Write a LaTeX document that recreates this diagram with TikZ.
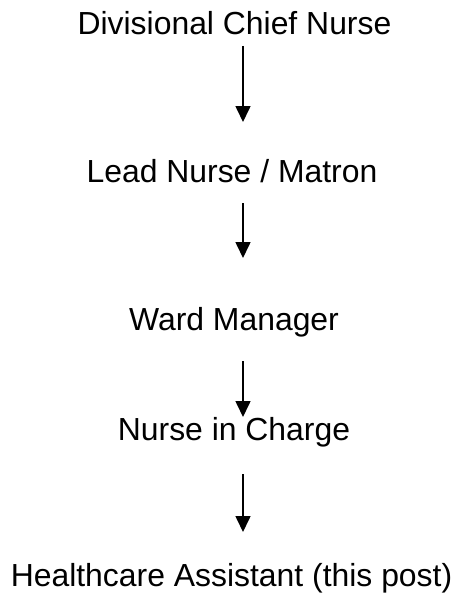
\documentclass[tikz,border=0pt]{standalone}
\usepackage{fontspec}
\setmainfont{Liberation Sans}
\usetikzlibrary{arrows.meta}
\begin{document}
\begin{tikzpicture}[x=1pt,y=1pt,
  lbl/.style={anchor=base,inner sep=0pt,font=\fontsize{31.9}{38}\selectfont},
  arr/.style={line width=1.6pt,-{Triangle[width=15pt,length=16pt]}}]
\useasboundingbox (0,0) rectangle (458,-594);
\node[lbl] (n1) at (234.5,-35) {Divisional Chief Nurse};
\node[lbl] (n2) at (232,-182) {Lead Nurse / Matron};
\node[lbl] (n3) at (234,-330) {Ward Manager};
\node[lbl] (n4) at (234,-440) {Nurse in Charge};
\node[lbl] (n5) at (231.5,-586) {Healthcare Assistant (this post)};
\coordinate (a1s) at (243,-46);  \coordinate (a1e) at (243,-122);
\coordinate (a2s) at (243,-203); \coordinate (a2e) at (243,-258);
\coordinate (a3s) at (243,-361); \coordinate (a3e) at (243,-417);
\coordinate (a4s) at (243,-474); \coordinate (a4e) at (243,-532);
\draw[arr] (a1s) -- (a1e);
\draw[arr] (a2s) -- (a2e);
\draw[arr] (a3s) -- (a3e);
\draw[arr] (a4s) -- (a4e);
\end{tikzpicture}
\end{document}
